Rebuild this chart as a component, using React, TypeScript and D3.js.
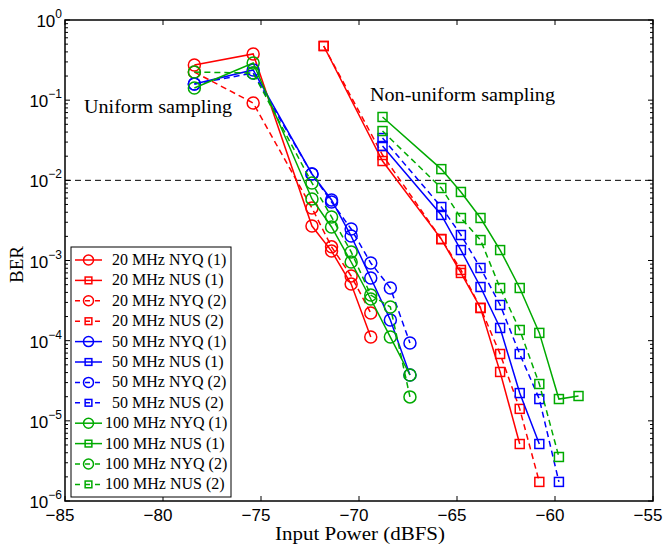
import React from "react";
import * as d3 from "d3";

// ---- data ----
const xTicks = [-85, -80, -75, -70, -65, -60, -55];
const yDecades = [0, -1, -2, -3, -4, -5, -6];
const threshold = 1e-2;

type P = [number, number];

const nyq20a: P[] = [[-78.4, 0.275], [-75.4, 0.377], [-72.4, 0.00269], [-71.4, 0.00131], [-70.4, 5.09e-4], [-69.4, 1.11e-4]];
const nus20a: P[] = [[-71.8, 0.474], [-68.8, 0.0174], [-65.8, 0.00185], [-64.8, 6.99e-4], [-63.8, 2.56e-4], [-62.8, 4.07e-5], [-61.8, 5.14e-6]];
const nyq20b: P[] = [[-78.4, 0.224], [-75.4, 0.0922], [-72.4, 0.00452], [-71.4, 0.00148], [-70.4, 6.41e-4], [-69.4, 2.21e-4]];
const nus20b: P[] = [[-71.8, 0.474], [-68.8, 0.0207], [-65.8, 0.00185], [-64.8, 7.62e-4], [-63.8, 2.56e-4], [-62.8, 6.82e-5], [-61.8, 1.41e-5], [-60.8, 1.73e-6]];

const nyq50a: P[] = [[-78.4, 0.159], [-75.4, 0.238], [-72.4, 0.012], [-71.4, 0.00569], [-70.4, 0.00202], [-69.4, 6.05e-4], [-68.4, 1.81e-4], [-67.4, 3.73e-5]];
const nus50a: P[] = [[-68.8, 0.0268], [-65.8, 0.0037], [-64.8, 0.00135], [-63.8, 4.67e-4], [-62.8, 1.44e-4], [-61.8, 2.22e-5], [-60.8, 5.14e-6]];
const nyq50b: P[] = [[-78.4, 0.159], [-75.4, 0.218], [-72.4, 0.012], [-71.4, 0.00537], [-70.4, 0.00247], [-69.4, 9.31e-4], [-68.4, 4.54e-4], [-67.4, 9.35e-5]];
const nus50b: P[] = [[-68.8, 0.0337], [-65.8, 0.00465], [-64.8, 0.00208], [-63.8, 8.07e-4], [-62.8, 2.79e-4], [-61.8, 6.82e-5], [-60.8, 1.87e-5], [-59.8, 1.73e-6]];

const nyq100a: P[] = [[-78.4, 0.142], [-75.4, 0.291], [-72.4, 0.00585], [-71.4, 0.00262], [-70.4, 9.58e-4], [-69.4, 3.31e-4], [-68.4, 1.11e-4], [-67.4, 3.73e-5]];
const nus100a: P[] = [[-68.8, 0.0617], [-65.8, 0.0138], [-64.8, 0.00716], [-63.8, 0.00339], [-62.8, 0.00135], [-61.8, 4.54e-4], [-60.8, 1.25e-4], [-59.8, 1.87e-5], [-58.8, 2.04e-5]];
const nyq100b: P[] = [[-78.4, 0.224], [-75.4, 0.218], [-72.4, 0.00927], [-71.4, 0.00349], [-70.4, 0.00128], [-69.4, 3.71e-4], [-68.4, 2.63e-4], [-67.4, 1.99e-5]];
const nus100b: P[] = [[-68.8, 0.0412], [-65.8, 0.00802], [-64.8, 0.00339], [-63.8, 0.0018], [-62.8, 4.54e-4], [-61.8, 1.36e-4], [-60.8, 2.88e-5], [-59.8, 3.54e-6]];

const labels = [
  "20 MHz NYQ (1)", "20 MHz NUS (1)", "20 MHz NYQ (2)", "20 MHz NUS (2)",
  "50 MHz NYQ (1)", "50 MHz NUS (1)", "50 MHz NYQ (2)", "50 MHz NUS (2)",
  "100 MHz NYQ (1)", "100 MHz NUS (1)", "100 MHz NYQ (2)", "100 MHz NUS (2)",
];
const allData = [nyq20a, nus20a, nyq20b, nus20b, nyq50a, nus50a, nyq50b, nus50b, nyq100a, nus100a, nyq100b, nus100b];

const RED = "#ff0000";
const BLUE = "#0000ff";
const GREEN = "#00aa00";
const colors = [RED, RED, RED, RED, BLUE, BLUE, BLUE, BLUE, GREEN, GREEN, GREEN, GREEN];
const markers = ["o", "s", "o", "s", "o", "s", "o", "s", "o", "s", "o", "s"];
const dashed = [false, false, true, true, false, false, true, true, false, false, true, true];

// ---- layout ----
const W = 665, H = 544;
const L = 65, R = 653, T = 20, B = 501;
const SERIF2 = "'Liberation Serif','Times New Roman',serif";
const SANS = "'Liberation Sans',Arial,Helvetica,sans-serif";
const DASH = "6,4";
const DIGIT_W = 0.556 * 17;

function Marker({ kind, x, y, color, size }: { kind: string; x: number; y: number; color: string; size: number }) {
  if (kind === "o") return <circle cx={x} cy={y} r={size} fill="none" stroke={color} strokeWidth={1.5} />;
  const s = size * 0.8;
  return <rect x={x - s} y={y - s} width={2 * s} height={2 * s} fill="none" stroke={color} strokeWidth={1.5} />;
}

export default function App() {
  const x = d3.scaleLinear().domain([-85, -55]).range([L, R]);
  const y = d3.scaleLog().domain([1, 1e-6]).range([T, B]);
  const line = d3.line<P>().x((d) => x(d[0])).y((d) => y(d[1]));

  const minor: number[] = [];
  for (let k = -6; k < 0; k++) for (let m = 2; m <= 9; m++) minor.push(m * Math.pow(10, k));

  const legX = 71, legY = 247, legW = 160, legH = 250, rowH = 20.4;

  return (
    <svg width={W} height={H} style={{ position: "fixed", left: 0, top: 0, background: "#fff" }}>
      <rect x={0} y={0} width={W} height={H} fill="#fff" />
      {/* threshold line */}
      <line x1={L} x2={R} y1={y(threshold)} y2={y(threshold)} stroke="#000" strokeWidth={1} strokeDasharray="6,4" />

      {/* series */}
      {allData.map((d, i) => (
        <g key={i}>
          <path d={line(d) || ""} fill="none" stroke={colors[i]} strokeWidth={1.5} strokeDasharray={dashed[i] ? DASH : undefined} />
          {d.map((p, j) => (
            <Marker key={j} kind={markers[i]} x={x(p[0])} y={y(p[1])} color={colors[i]} size={markers[i] === "o" ? 6 : 5.6} />
          ))}
        </g>
      ))}

      {/* ticks */}
      {xTicks.map((t) => {
        const digits = String(Math.abs(t));
        return (
          <g key={t}>
            <line x1={x(t)} x2={x(t)} y1={B} y2={B - 5} stroke="#000" />
            <line x1={x(t)} x2={x(t)} y1={T} y2={T + 5} stroke="#000" />
            <text x={x(t)} y={521} textAnchor="middle" fontFamily={SANS} fontSize={17}>{digits}</text>
            {t < 0 && (
              <text x={x(t) - (digits.length * DIGIT_W) / 2} y={521} textAnchor="end" fontFamily={SANS} fontSize={17}>{"\u2212"}</text>
            )}
          </g>
        );
      })}
      {yDecades.map((e) => (
        <g key={e}>
          <line x1={L} x2={L + 5} y1={y(Math.pow(10, e))} y2={y(Math.pow(10, e))} stroke="#000" />
          <line x1={R} x2={R - 5} y1={y(Math.pow(10, e))} y2={y(Math.pow(10, e))} stroke="#000" />
          <text x={62} y={y(Math.pow(10, e)) + 7} textAnchor="end" fontFamily={SANS} fontSize={17}>
            10
            <tspan dy={-9} fontSize={12}>{e < 0 ? "\u2212" + Math.abs(e) : e}</tspan>
          </text>
        </g>
      ))}
      {minor.map((v, i) => (
        <g key={"m" + i}>
          <line x1={L} x2={L + 3} y1={y(v)} y2={y(v)} stroke="#000" />
          <line x1={R} x2={R - 3} y1={y(v)} y2={y(v)} stroke="#000" />
        </g>
      ))}

      {/* axes box */}
      <rect x={L} y={T} width={R - L} height={B - T} fill="none" stroke="#000" strokeWidth={1.5} />

      {/* annotations */}
      <text x={84} y={113} fontFamily={SERIF2} fontSize={18} textLength={148} lengthAdjust="spacingAndGlyphs">Uniform sampling</text>
      <text x={370} y={101} fontFamily={SERIF2} fontSize={18} textLength={185} lengthAdjust="spacingAndGlyphs">Non-uniform sampling</text>

      {/* axis labels */}
      <text x={275} y={540} fontFamily={SERIF2} fontSize={18} textLength={170} lengthAdjust="spacingAndGlyphs">Input Power (dBFS)</text>
      <text transform={`translate(23,283) rotate(-90)`} fontFamily={SERIF2} fontSize={18} textLength={37} lengthAdjust="spacingAndGlyphs">BER</text>

      {/* legend */}
      <rect x={legX} y={legY} width={legW} height={legH} fill="#fff" stroke="#000" strokeWidth={1} />
      {labels.map((lab, i) => {
        const cy = legY + 13 + i * rowH;
        const is100 = lab.startsWith("100");
        return (
          <g key={lab}>
            <line x1={legX + 4} x2={legX + 31} y1={cy} y2={cy} stroke={colors[i]} strokeWidth={1.5} strokeDasharray={dashed[i] ? "5,5" : undefined} />
            <Marker kind={markers[i]} x={legX + 17.5} y={cy} color={colors[i]} size={markers[i] === "o" ? 5 : 4.2} />
            <text x={is100 ? legX + 34 : legX + 41} y={cy + 5} fontFamily={SERIF2} fontSize={16}>{lab}</text>
          </g>
        );
      })}
    </svg>
  );
}
